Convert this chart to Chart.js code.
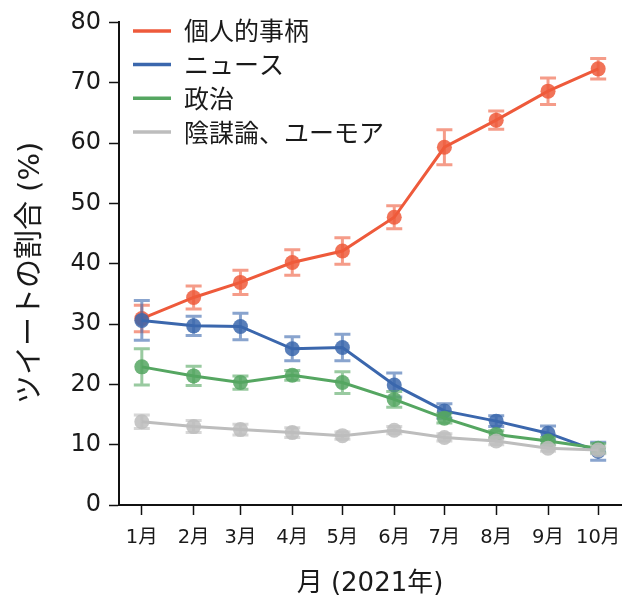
<!DOCTYPE html>
<html>
<head>
<meta charset="utf-8">
<script src="https://cdn.jsdelivr.net/npm/chart.js@4/dist/chart.umd.min.js"></script>
<style>
  html, body { margin: 0; padding: 0; background: #ffffff; }
  #wrap { width: 633px; height: 599px; }
</style>
</head>
<body>
<div id="wrap"><canvas id="chart" width="633" height="599"></canvas></div>
<script>
// Month labels and their day offsets from 1 Jan 2021 (first day of each month)
const monthLabels = ['1月', '2月', '3月', '4月', '5月', '6月', '7月', '8月', '9月', '10月'];
const monthDays   = [0, 31, 59, 90, 120, 151, 181, 212, 243, 273];

const seriesNames = ['個人的事柄', 'ニュース', '政治', '陰謀論、ユーモア'];

// Share of tweets (%) per month, with error half-widths
const personal     = [30.9, 34.4, 36.9, 40.2, 42.1, 47.7, 59.3, 63.8, 68.6, 72.3];
const personalErr  = [2.2, 1.9, 2.0, 2.1, 2.2, 1.9, 2.9, 1.5, 2.2, 1.7];
const news         = [30.6, 29.7, 29.6, 25.9, 26.1, 19.9, 15.6, 13.9, 11.9, 8.9];
const newsErr      = [3.3, 1.6, 2.2, 2.0, 2.2, 2.0, 1.2, 0.9, 1.2, 1.5];
const politics     = [22.9, 21.4, 20.3, 21.5, 20.3, 17.5, 14.4, 11.7, 10.6, 9.4];
const politicsErr  = [3.0, 1.6, 1.1, 0.8, 1.8, 1.3, 0.8, 0.6, 0.6, 0.8];
const conspiracy   = [13.8, 13.0, 12.5, 12.0, 11.5, 12.4, 11.2, 10.6, 9.4, 9.1];
const conspiracyErr = [1.1, 1.0, 0.9, 0.8, 0.6, 0.6, 0.6, 0.6, 0.5, 0.6];

const yTicks = [0, 10, 20, 30, 40, 50, 60, 70, 80];

const palette = [
  { line: 'rgb(238, 90, 59)',  point: 'rgba(238, 90, 59, 0.85)',  err: 'rgba(238, 90, 59, 0.6)' },
  { line: 'rgb(59, 103, 173)', point: 'rgba(59, 103, 173, 0.85)', err: 'rgba(59, 103, 173, 0.6)' },
  { line: 'rgb(85, 166, 97)',  point: 'rgba(85, 166, 97, 0.85)',  err: 'rgba(85, 166, 97, 0.6)' },
  { line: 'rgb(189, 189, 189)', point: 'rgba(189, 189, 189, 0.85)', err: 'rgba(189, 189, 189, 0.6)' }
];

const values = [personal, news, politics, conspiracy];
const errors = [personalErr, newsErr, politicsErr, conspiracyErr];

const FONT = '"DejaVu Sans", "Noto Sans CJK JP", sans-serif';
const CJK_FONT = '"Noto Sans CJK JP", sans-serif';

const datasets = seriesNames.map((name, s) => ({
  label: name,
  data: monthDays.map((d, i) => ({ x: d, y: values[s][i] })),
  errorHalf: errors[s],
  errorColor: palette[s].err,
  borderColor: palette[s].line,
  backgroundColor: palette[s].point,
  pointBackgroundColor: palette[s].point,
  pointBorderWidth: 0,
  pointRadius: 7.5,
  borderWidth: 3,
  tension: 0,
  fill: false,
  // later series are painted over earlier ones
  order: seriesNames.length - 1 - s
}));

// Vertical error bars with caps, painted just before each series' line
const errorBarPlugin = {
  id: 'errorBars',
  beforeDatasetDraw(chart, args) {
    const ds = chart.data.datasets[args.index];
    const xs = chart.scales.x, ys = chart.scales.y;
    const ctx = chart.ctx;
    const cap = 8;
    ctx.save();
    ctx.strokeStyle = ds.errorColor;
    ctx.lineWidth = 3;
    ctx.beginPath();
    ds.data.forEach((p, i) => {
      const e = ds.errorHalf[i];
      const x = xs.getPixelForValue(p.x);
      const yLo = ys.getPixelForValue(p.y - e);
      const yHi = ys.getPixelForValue(p.y + e);
      ctx.moveTo(x, yLo); ctx.lineTo(x, yHi);
      ctx.moveTo(x - cap, yLo); ctx.lineTo(x + cap, yLo);
      ctx.moveTo(x - cap, yHi); ctx.lineTo(x + cap, yHi);
    });
    ctx.stroke();
    ctx.restore();
  }
};

// Legend inside the plot, top-left, with short line swatches
const insideLegendPlugin = {
  id: 'insideLegend',
  afterDraw(chart) {
    const ctx = chart.ctx;
    const area = chart.chartArea;
    const x0 = area.left + 14, x1 = area.left + 52, tx = area.left + 65;
    const rowY0 = area.top + 8.5, rowStep = 33.7;
    ctx.save();
    ctx.font = '25px ' + CJK_FONT;
    ctx.textBaseline = 'middle';
    ctx.textAlign = 'left';
    seriesNames.forEach((name, s) => {
      const y = rowY0 + s * rowStep;
      ctx.strokeStyle = palette[s].line;
      ctx.lineWidth = 3.5;
      ctx.beginPath(); ctx.moveTo(x0, y); ctx.lineTo(x1, y); ctx.stroke();
      ctx.fillStyle = '#1a1a1a';
      ctx.fillText(name, tx, y);
    });
    ctx.restore();
  }
};

new Chart(document.getElementById('chart'), {
  type: 'line',
  data: { datasets },
  plugins: [errorBarPlugin, insideLegendPlugin],
  options: {
    responsive: false,
    devicePixelRatio: 1,
    animation: false,
    layout: { padding: { top: 22, right: 12, left: 0, bottom: 0 } },
    plugins: { legend: { display: false }, tooltip: { enabled: false } },
    scales: {
      x: {
        type: 'linear',
        min: -13.65,
        max: 286.65,
        afterBuildTicks(scale) { scale.ticks = monthDays.map(v => ({ value: v })); },
        afterFit(scale) { scale.height = 94; },
        grid: { display: true, drawOnChartArea: false, drawTicks: true, tickLength: 10, tickWidth: 1.5, color: '#111111' },
        border: { display: true, color: '#111111', width: 2 },
        ticks: {
          autoSkip: false, maxRotation: 0, padding: 11,
          color: '#1a1a1a',
          font: { family: FONT, size: 19.5 },
          callback: (v, i) => monthLabels[i]
        },
        title: {
          display: true, text: '月 (2021年)', color: '#1a1a1a',
          font: { family: FONT, size: 26 },
          padding: { top: 0, bottom: -1 }
        }
      },
      y: {
        type: 'linear',
        min: 0,
        max: 80,
        afterBuildTicks(scale) { scale.ticks = yTicks.map(v => ({ value: v })); },
        afterFit(scale) { scale.width = 119; },
        grid: { display: true, drawOnChartArea: false, drawTicks: true, tickLength: 10, tickWidth: 1.5, color: '#111111' },
        border: { display: true, color: '#111111', width: 2 },
        ticks: {
          padding: 8,
          color: '#1a1a1a',
          font: { family: FONT, size: 24 }
        },
        title: {
          display: true, text: 'ツイートの割合 (%)  ', color: '#1a1a1a',
          font: { family: FONT, size: 29 },
          padding: { top: 14, bottom: 0 }
        }
      }
    }
  }
});
</script>
</body>
</html>
